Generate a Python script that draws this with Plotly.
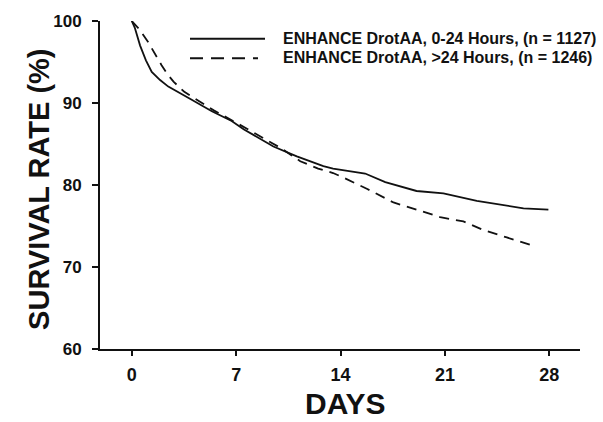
import plotly.graph_objects as go

# ---- data ----
early_days = [0, 0.2, 0.56, 0.95, 1.34, 1.9, 2.45, 3.2, 4.02, 5.37, 6.7, 7.5, 8.5, 9.5,
              11.07, 12.85, 13.5, 15.1, 15.65, 17.0, 19.1, 20.9, 23.14, 26.27, 27.94]
early_surv = [100, 99.2, 97.0, 95.2, 93.8, 92.8, 92.0, 91.2, 90.4, 89.0, 87.8, 86.8, 85.7, 84.7,
              83.5, 82.3, 82.0, 81.6, 81.4, 80.35, 79.27, 78.98, 78.07, 77.15, 77.0]

late_days = [0, 0.5, 1.11, 1.6, 2.0, 2.4, 2.8, 3.5, 4.5, 5.5, 7.0, 8.5, 10.0, 11.3, 12.5, 13.5, 14.2,
             15.76, 17.55, 19.1, 20.68, 22.24, 23.6, 25.15, 26.9]
late_surv = [100, 99.0, 97.4, 95.8, 94.6, 93.5, 92.6, 91.4, 90.3, 89.1, 87.6, 86.0, 84.5, 82.9, 82.0,
             81.46, 80.9, 79.55, 77.87, 77.0, 76.08, 75.56, 74.5, 73.6, 72.6]

x_ticks = [0, 7, 14, 21, 28]
y_ticks = [60, 70, 80, 90, 100]
series_names = ["ENHANCE DrotAA, 0-24 Hours, (n = 1127)",
                "ENHANCE DrotAA, >24 Hours, (n = 1246)"]

# ---- layout geometry ----
W, H = 603, 422
ML, MR, MT, MB = 100, 23, 15, 73
PW, PH = W - ML - MR, H - MT - MB


def px(xp):
    return (xp - ML) / PW


def py(yp):
    return (H - MB - yp) / PH


FONT = "Liberation Sans, Arial, sans-serif"
INK = "#111111"

fig = go.Figure()
fig.add_trace(go.Scatter(x=early_days, y=early_surv, mode="lines",
                         line=dict(color=INK, width=1.8), showlegend=False))
fig.add_trace(go.Scatter(x=late_days, y=late_surv, mode="lines",
                         line=dict(color=INK, width=1.8, dash="10px,7px"), showlegend=False))

# legend drawn by hand (long sample lines)
fig.add_shape(type="line", xref="paper", yref="paper", x0=px(190), x1=px(265), y0=py(33), y1=py(33),
              line=dict(color=INK, width=2))
fig.add_shape(type="line", xref="paper", yref="paper", x0=px(190), x1=px(258), y0=py(53), y1=py(53),
              line=dict(color=INK, width=2, dash="13px,8px"))
for name, yy in zip(series_names, [33, 52]):
    fig.add_annotation(text="<b>%s</b>" % name, xref="paper", yref="paper", x=px(281), y=py(yy),
                       xanchor="left", yanchor="middle", showarrow=False,
                       font=dict(family=FONT, size=16.0, color=INK))

# axis titles
fig.add_annotation(text="<b>DAYS</b>", xref="paper", yref="paper", x=px(345), y=py(404),
                   xanchor="center", yanchor="middle", showarrow=False,
                   font=dict(family=FONT, size=30, color=INK))
fig.add_annotation(text="<b>SURVIVAL RATE (%)</b>", xref="paper", yref="paper", x=px(39), y=py(187),
                   xanchor="center", yanchor="middle", showarrow=False, textangle=-90,
                   font=dict(family=FONT, size=29, color=INK))

fig.update_layout(
    width=W, height=H,
    margin=dict(l=ML, r=MR, t=MT, b=MB),
    paper_bgcolor="white", plot_bgcolor="white",
    font=dict(family=FONT, color=INK),
    showlegend=False,
)
fig.update_xaxes(range=[-2.13, 30.06], tickvals=x_ticks, ticktext=["<b>%d</b>" % v for v in x_ticks],
                 showgrid=False, zeroline=False, showline=True, linecolor=INK, linewidth=2,
                 ticks="outside", ticklen=5, tickwidth=2, tickcolor=INK,
                 tickfont=dict(family=FONT, size=18, color=INK), ticklabelstandoff=3)
fig.update_yaxes(range=[60, 100], tickvals=y_ticks, ticktext=["<b>%d</b>" % v for v in y_ticks],
                 showgrid=False, zeroline=False, showline=True, linecolor=INK, linewidth=2,
                 ticks="outside", ticklen=6, tickwidth=2, tickcolor=INK,
                 tickfont=dict(family=FONT, size=17, color=INK), ticklabelstandoff=7)

fig.write_html("out.html")
